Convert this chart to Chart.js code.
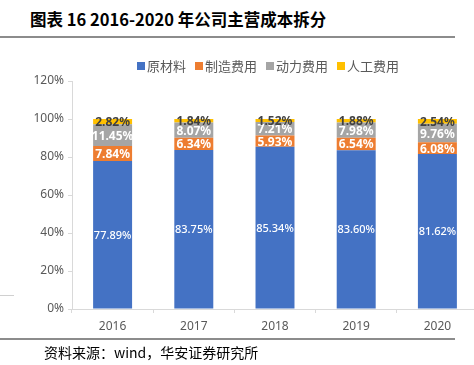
<!DOCTYPE html>
<html lang="zh">
<head>
  <meta charset="UTF-8" />
  <title>2016-2020 年公司主营成本拆分</title>
  <script src="https://cdn.jsdelivr.net/npm/chart.js"></script>
  <style>
    html, body {
      margin: 0;
      padding: 0;
      background: #fff;
      width: 474px;
      height: 365px;
      overflow: hidden;
      position: relative;
      font-family: "Noto Sans CJK SC", "Noto Sans", sans-serif;
    }
    .title {
      position: absolute;
      left: 30px;
      top: 7px;
      font-size: 16.5px;
      font-weight: bold;
      color: #000;
      white-space: nowrap;
    }
    .rule {
      position: absolute;
      left: 0;
      width: 455px;
      height: 2px;
      background: #8c8c8c;
    }
    .legend {
      position: absolute;
      top: 56px;
      left: 137px;
      display: flex;
      gap: 9px;
      font-size: 13px;
      color: #595959;
      white-space: nowrap;
    }
    .legend span { display: flex; align-items: center; }
    .legend i {
      display: inline-block;
      width: 8px;
      height: 8px;
      margin-right: 2px;
    }
    .source {
      position: absolute;
      left: 44px;
      top: 342px;
      font-size: 14px;
      color: #000;
      white-space: nowrap;
    }
    canvas {
      position: absolute;
      left: 0;
      top: 0;
    }
  </style>
</head>
<body>
  <div class="title">图表 16 2016-2020 年公司主营成本拆分</div>
  <div class="rule" style="top:36px"></div>
  <canvas id="costChart" width="480" height="340"></canvas>
  <div class="legend" id="legend"></div>
  <div class="rule" style="top:338px; height:1.5px"></div>
  <div style="position:absolute;left:0;top:295px;width:14px;height:1px;background:#d0d0d0"></div>
  <div class="source">资料来源：wind，华安证券研究所</div>

  <script>
    const years = ['2016', '2017', '2018', '2019', '2020'];
    const seriesNames = ['原材料', '制造费用', '动力费用', '人工费用'];
    const rawMaterial = [77.89, 83.75, 85.34, 83.60, 81.62];
    const manufacturing = [7.84, 6.34, 5.93, 6.54, 6.08];
    const power = [11.45, 8.07, 7.21, 7.98, 9.76];
    const labor = [2.82, 1.84, 1.52, 1.88, 2.54];
    const yTicks = [0, 20, 40, 60, 80, 100, 120];

    const colors = ['#4472C4', '#ED7D31', '#A5A5A5', '#FFC000'];
    const labelColors = ['#ffffff', '#ffffff', '#ffffff', '#404040'];
    const labelFonts = ['500 11px "Noto Sans", sans-serif', 'bold 12px "Noto Sans", sans-serif',
                        'bold 12px "Noto Sans", sans-serif', 'bold 12px "Noto Sans", sans-serif'];

    // html legend
    const legend = document.getElementById('legend');
    seriesNames.forEach((n, i) => {
      legend.innerHTML += '<span><i style="background:' + colors[i] + '"></i>' + n + '</span>';
    });

    // draw value labels inside segments
    const segmentLabels = {
      id: 'segmentLabels',
      afterDatasetsDraw(chart) {
        const ctx = chart.ctx;
        ctx.save();
        ctx.textAlign = 'center';
        ctx.textBaseline = 'middle';
        chart.data.datasets.forEach((ds, di) => {
          const meta = chart.getDatasetMeta(di);
          meta.data.forEach((bar, i) => {
            const cy = (bar.y + bar.base) / 2;
            ctx.font = labelFonts[di];
            ctx.fillStyle = labelColors[di];
            ctx.fillText(ds.data[i].toFixed(2) + '%', bar.x, cy + 1);
          });
        });
        ctx.restore();
      }
    };

    const allData = [rawMaterial, manufacturing, power, labor];

    new Chart(document.getElementById('costChart'), {
      type: 'bar',
      data: {
        labels: years,
        datasets: allData.map((d, i) => ({
          label: seriesNames[i],
          data: d,
          backgroundColor: colors[i],
          borderWidth: 0,
          categoryPercentage: 0.48,
          barPercentage: 1
        }))
      },
      options: {
        responsive: false,
        animation: false,
        layout: { padding: { top: 81, right: 2, left: 0, bottom: 0 } },
        plugins: {
          legend: { display: false },
          tooltip: { enabled: false }
        },
        scales: {
          x: {
            stacked: true,
            grid: {
              display: true,
              drawOnChartArea: false,
              color: '#d9d9d9',
              tickLength: 4,
              offset: true
            },
            border: { color: '#d9d9d9', width: 1 },
            ticks: {
              color: '#595959',
              font: { size: 12, family: '"Noto Sans", sans-serif' },
              padding: 6
            },
            afterFit(scale) { scale.height = 31; }
          },
          y: {
            stacked: true,
            min: 0,
            max: 120,
            afterBuildTicks(scale) {
              scale.ticks = yTicks.map(v => ({ value: v }));
            },
            grid: {
              drawOnChartArea: false,
              color: '#d9d9d9',
              tickLength: 4
            },
            border: { color: '#d9d9d9', width: 1 },
            ticks: {
              color: '#595959',
              font: { size: 12, family: '"Noto Sans", sans-serif' },
              padding: 4,
              callback: v => v + '%'
            },
            afterFit(scale) { scale.width = 72; }
          }
        }
      },
      plugins: [segmentLabels]
    });
  </script>
</body>
</html>
